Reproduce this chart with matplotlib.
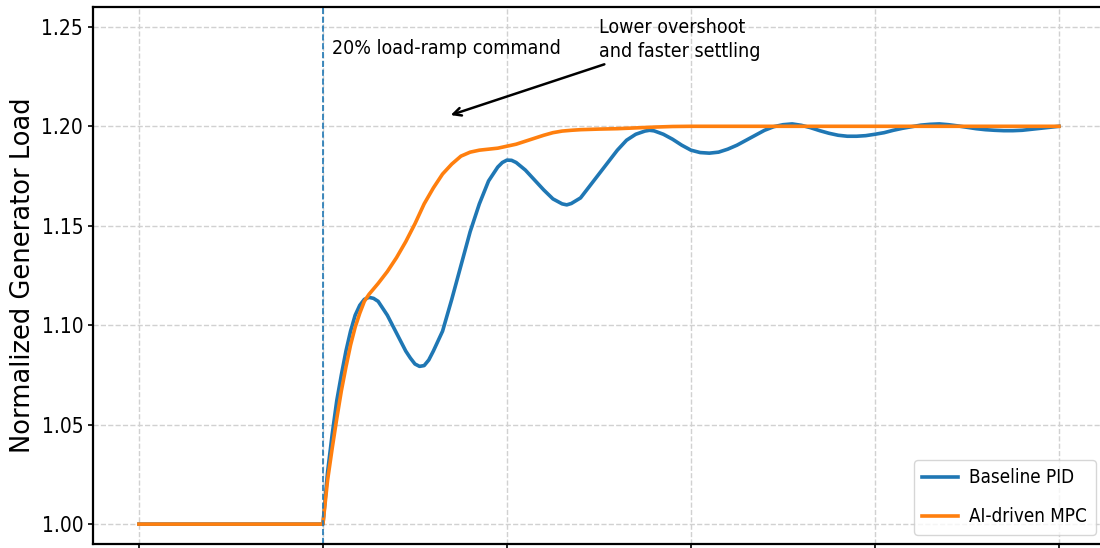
import matplotlib
matplotlib.use("Agg")
import matplotlib.pyplot as plt

plt.rcParams['font.family'] = ['DejaVu Sans']
plt.rcParams['font.stretch'] = 'condensed'

# time axis (s) and normalized load for the two controllers
t_pid = [0, 20, 20.5, 21, 21.5, 22, 22.5, 23, 23.5, 24, 24.5, 25, 25.5, 26,
         27, 28, 29, 29.5, 30, 30.5, 31, 31.5, 32, 33, 34, 35, 36, 37, 38, 39, 39.5, 40,
         40.5, 41, 42, 43, 44, 45, 46, 46.5, 47, 48, 49, 50, 51, 52, 53, 54, 55, 55.5, 56,
         57, 58, 59, 60, 61, 62, 63, 64, 65, 66, 67, 68, 69, 70, 71, 72,
         73, 74, 75, 76, 77, 78, 79, 80, 81, 82, 83, 84, 85, 86, 87, 88,
         89, 90, 91, 92, 93, 94, 95, 96, 97, 98, 99, 100]
load_pid = [1.0, 1.0, 1.026, 1.045, 1.062, 1.075, 1.087, 1.097, 1.105, 1.110, 1.113, 1.114, 1.1135, 1.112,
            1.105, 1.096, 1.087, 1.0835, 1.0805, 1.0793, 1.0797, 1.0825, 1.087, 1.097, 1.113, 1.130, 1.147, 1.161, 1.1725, 1.1795, 1.1818, 1.1830,
            1.1829, 1.1818, 1.178, 1.173, 1.168, 1.1635, 1.1610, 1.1605, 1.1612, 1.164, 1.170, 1.176, 1.182, 1.188, 1.193, 1.196, 1.1976, 1.1980, 1.1977,
            1.196, 1.1935, 1.1905, 1.188, 1.1868, 1.1865, 1.187, 1.1885, 1.1905, 1.193, 1.1955, 1.198, 1.1998, 1.2008, 1.2012, 1.2005,
            1.1993, 1.1978, 1.1965, 1.1955, 1.195, 1.195, 1.1953, 1.196, 1.1968, 1.198, 1.199, 1.1998, 1.2006, 1.201, 1.2012, 1.2008,
            1.2002, 1.1995, 1.1988, 1.1983, 1.198, 1.1978, 1.1978, 1.198, 1.1985, 1.199, 1.1995, 1.2]

t_mpc = [0, 20, 20.5, 21, 21.5, 22, 22.5, 23, 23.5, 24, 24.5, 25, 26, 27, 28,
         29, 30, 31, 32, 33, 34, 35, 36, 37, 38, 39, 40, 41, 42, 43, 44,
         45, 46, 47, 48, 50, 52, 54, 56, 58, 60, 100]
load_mpc = [1.0, 1.0, 1.022, 1.038, 1.053, 1.067, 1.079, 1.090, 1.099, 1.106, 1.112, 1.1155, 1.121, 1.127, 1.134,
            1.142, 1.151, 1.161, 1.169, 1.176, 1.181, 1.185, 1.187, 1.188, 1.1885, 1.189, 1.190, 1.191, 1.1925, 1.194, 1.1955,
            1.1968, 1.1976, 1.198, 1.1983, 1.1986, 1.1988, 1.1992, 1.1996, 1.1999, 1.2, 1.2]

ramp_time = 20
x_ticks = [0, 20, 40, 60, 80, 100]
y_ticks = [1.00, 1.05, 1.10, 1.15, 1.20, 1.25]

fig = plt.figure(figsize=(11, 5.48), dpi=100)
ax = fig.add_axes([0.0845, 0.0073, 0.92, 0.98])

ax.plot(t_pid, load_pid, color='#1f77b4', lw=2.6, label='Baseline PID')
ax.plot(t_mpc, load_mpc, color='#ff7f0e', lw=2.6, label='AI-driven MPC')
ax.axvline(ramp_time, color='#1f77b4', ls='--', lw=1.2)

ax.text(ramp_time + 1.0, 1.239, '20% load-ramp command', fontsize=14, va='center', ha='left')
ax.annotate('Lower overshoot\nand faster settling', xy=(33.6, 1.2052), xytext=(50, 1.233),
            fontsize=14, ha='left', va='bottom', linespacing=1.3,
            arrowprops=dict(arrowstyle='->', color='black', lw=1.8))

ax.set_xlim(-5, 105)
ax.set_ylim(0.99, 1.26)
ax.set_xticks(x_ticks)
ax.set_yticks(y_ticks)
ax.set_yticklabels([f'{v:.2f}' for v in y_ticks])
ax.tick_params(axis='both', labelsize=15, width=1.2)
ax.tick_params(axis='x', labelbottom=False)
ax.set_ylabel('Normalized Generator Load', fontsize=18.5, fontstretch='normal')
ax.grid(True, ls='--', color='0.82', lw=1.0)
for sp in ax.spines.values():
    sp.set_linewidth(1.6)

ax.legend(loc='lower right', fontsize=13.5, labelspacing=1.05, borderpad=0.45,
          handletextpad=0.6, handlelength=1.9)

fig.savefig('out.png', dpi=100)
